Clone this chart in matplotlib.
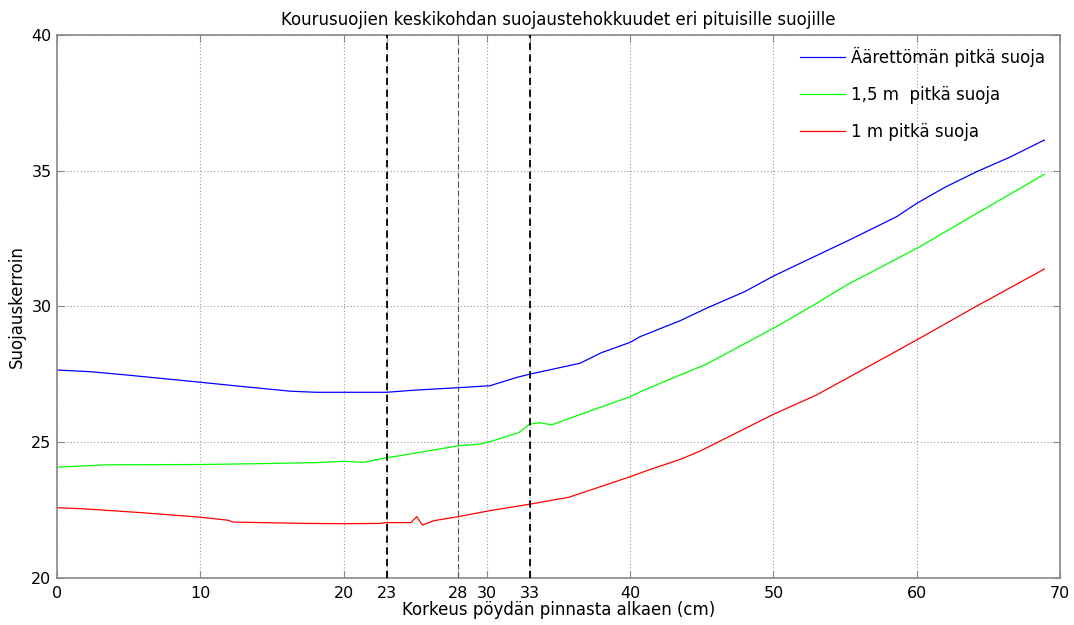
import matplotlib
matplotlib.use("Agg")
import matplotlib.pyplot as plt

# Protection factor along the trough shield centre, for three shield lengths
x_inf = [0, 2.3, 5, 10, 13, 16.3, 18.1, 20, 22.5, 23, 25, 28, 30.2, 32.1, 33, 34.5, 36.5, 38, 40, 40.7,
         43.5, 45.3, 48, 50, 52.5, 55.3, 58.6, 60, 62, 64.2, 66.5, 68.9]
y_inf = [27.66, 27.6, 27.47, 27.21, 27.05, 26.88, 26.84, 26.84, 26.84, 26.84, 26.92, 27.01, 27.08, 27.39, 27.51,
         27.68, 27.91, 28.3, 28.68, 28.89, 29.48, 29.93, 30.55, 31.12, 31.75, 32.45, 33.31, 33.80, 34.4, 34.97, 35.5, 36.13]

x_15 = [0, 3.5, 10, 13.9, 18.1, 20, 21.4, 22.5, 23, 24, 28, 29.5, 30.2, 32.2, 33, 33.7, 34.5, 40, 40.7,
        43.5, 45.3, 50, 52.8, 55.1, 60, 64, 68.9]
y_15 = [24.08, 24.17, 24.18, 24.21, 24.25, 24.30, 24.26, 24.38, 24.43, 24.51, 24.87, 24.93, 25.02, 25.35, 25.67,
        25.72, 25.64, 26.68, 26.86, 27.48, 27.87, 29.2, 30.05, 30.79, 32.14, 33.37, 34.87]

x_1 = [0, 1.8, 5.8, 10, 11.9, 12.3, 17.4, 20, 22.5, 23, 24.7, 25.1, 25.5, 26.3, 28, 30.2, 33, 35.7, 40,
       41.4, 43.5, 44.9, 50, 53, 58.8, 60, 64.2, 68.9]
y_1 = [22.59, 22.55, 22.41, 22.24, 22.13, 22.06, 22.01, 22.0, 22.01, 22.04, 22.04, 22.26, 21.95, 22.11, 22.26,
       22.48, 22.72, 22.97, 23.73, 24.0, 24.37, 24.68, 26.03, 26.74, 28.42, 28.77, 30.02, 31.38]

labels = ["Äärettömän pitkä suoja", "1,5 m  pitkä suoja", "1 m pitkä suoja"]
xticks = [0, 10, 20, 23, 28, 30, 33, 40, 50, 60, 70]
yticks = [20, 25, 30, 35, 40]

fig = plt.figure(figsize=(10.74, 6.25), dpi=100)
ax = fig.add_axes([0.0531, 0.0752, 0.9339, 0.8688])

ax.plot(x_inf, y_inf, color="#0000ff", lw=0.9, label=labels[0])
ax.plot(x_15, y_15, color="#00ff00", lw=0.9, label=labels[1])
ax.plot(x_1, y_1, color="#ff0000", lw=0.9, label=labels[2])

ax.axvline(23, color="black", lw=1.3, ls=(0, (4, 2.5)), zorder=3)
ax.axvline(33, color="black", lw=1.3, ls=(0, (4, 2.5)), zorder=3)
ax.axvline(28, color="#555555", lw=0.8, ls=(0, (5, 3)), zorder=3)

ax.set_xlim(0, 70)
ax.set_ylim(20, 40)
ax.set_xticks(xticks)
ax.set_yticks(yticks)
ax.grid(True, color="#999999", ls=(0, (1, 2)), lw=0.8)
ax.tick_params(direction="in", top=True, right=True, length=5, color="#888888",
               labelsize=11.5)
ax.tick_params(axis="x", pad=6)
ax.tick_params(axis="y", pad=4)
for s in ax.spines.values():
    s.set_color("#888888")
    s.set_linewidth(1.2)

ax.set_title("Kourusuojien keskikohdan suojaustehokkuudet eri pituisille suojille", fontsize=12, pad=7)
ax.set_xlabel("Korkeus pöydän pinnasta alkaen (cm)", fontsize=12, labelpad=0)
ax.set_ylabel("Suojauskerroin", fontsize=12, labelpad=4)

leg = ax.legend(loc="upper right", fontsize=12, frameon=False, labelspacing=1.15,
                handlelength=2.7, handletextpad=0.4, borderaxespad=0.3,
                bbox_to_anchor=(0.997, 1.0))

fig.savefig("out.png", dpi=100)
